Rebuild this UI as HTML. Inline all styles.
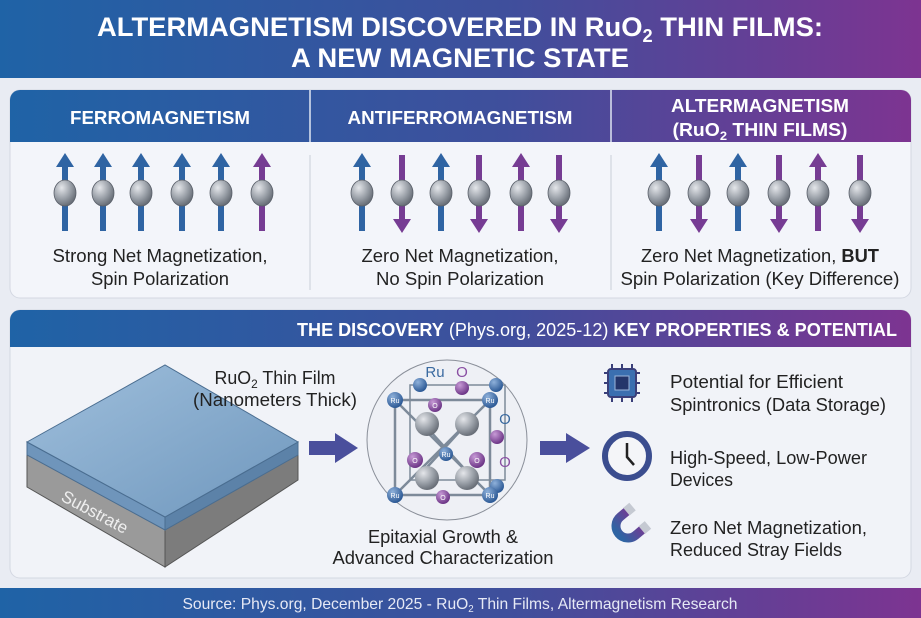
<!DOCTYPE html>
<html><head><meta charset="utf-8"><style>
html,body{margin:0;padding:0;background:#e9ecf3;}
svg{display:block;font-family:"Liberation Sans",sans-serif;}
</style></head><body>
<svg width="921" height="618" viewBox="0 0 921 618" xmlns="http://www.w3.org/2000/svg">
<defs>
<linearGradient id="g" x1="0" x2="1" y1="0" y2="0"><stop offset="0" stop-color="#1f63a6"/><stop offset="0.55" stop-color="#3f4f9c"/><stop offset="1" stop-color="#7d3491"/></linearGradient>
<radialGradient id="sp" cx="0.35" cy="0.3" r="0.7"><stop offset="0" stop-color="#e4e6ea"/><stop offset="0.6" stop-color="#9aa0a8"/><stop offset="1" stop-color="#6a7079"/></radialGradient>
<radialGradient id="bl" cx="0.35" cy="0.3" r="0.7"><stop offset="0" stop-color="#8fb1da"/><stop offset="1" stop-color="#2d5a96"/></radialGradient>
<radialGradient id="pu" cx="0.35" cy="0.3" r="0.7"><stop offset="0" stop-color="#c79ad6"/><stop offset="1" stop-color="#6d3687"/></radialGradient>
<linearGradient id="top" x1="0" y1="0" x2="1" y2="1"><stop offset="0" stop-color="#9fbfdc"/><stop offset="1" stop-color="#6f97bd"/></linearGradient>
<linearGradient id="mg" x1="0" x2="1"><stop offset="0" stop-color="#2f64a3"/><stop offset="1" stop-color="#7d3491"/></linearGradient>
<g id="up"><rect x="-3" y="-30" width="6" height="68" /><polygon points="-9,-26 0,-40 9,-26"/></g>
<g id="dn"><rect x="-3" y="-38" width="6" height="68" /><polygon points="-9,26 0,40 9,26"/></g>
<g id="ball"><ellipse cx="0" cy="0" rx="11" ry="13" fill="url(#sp)" stroke="#5a606a" stroke-width="0.8"/></g>
</defs>
<!-- title -->
<rect x="0" y="0" width="921" height="78" fill="url(#g)"/>
<text x="460" y="36" text-anchor="middle" font-size="27" font-weight="bold" fill="#fff" textLength="726" lengthAdjust="spacingAndGlyphs">ALTERMAGNETISM DISCOVERED IN RuO<tspan font-size="18" dy="6">2</tspan><tspan dy="-6"> THIN FILMS:</tspan></text>
<text x="460" y="67" text-anchor="middle" font-size="27" font-weight="bold" fill="#fff" textLength="338" lengthAdjust="spacingAndGlyphs">A NEW MAGNETIC STATE</text>

<!-- top panel -->
<rect x="10" y="90" width="901" height="208" rx="10" fill="#f3f5fa" stroke="#d4d8e2"/>
<path d="M10,142 V100 a10,10 0 0 1 10,-10 H901 a10,10 0 0 1 10,10 V142 Z" fill="url(#g)"/>
<line x1="310" y1="90" x2="310" y2="142" stroke="#dfe6f2" stroke-width="1.5"/>
<line x1="611" y1="90" x2="611" y2="142" stroke="#dfe6f2" stroke-width="1.5"/>
<line x1="310" y1="155" x2="310" y2="290" stroke="#c9ced8"/>
<line x1="611" y1="155" x2="611" y2="290" stroke="#c9ced8"/>
<g font-size="18" font-weight="bold" fill="#fff" text-anchor="middle">
<text x="160" y="124" textLength="180" lengthAdjust="spacingAndGlyphs">FERROMAGNETISM</text>
<text x="460" y="124" textLength="225" lengthAdjust="spacingAndGlyphs">ANTIFERROMAGNETISM</text>
<text x="760" y="112" textLength="178" lengthAdjust="spacingAndGlyphs">ALTERMAGNETISM</text>
<text x="760" y="136" textLength="175" lengthAdjust="spacingAndGlyphs">(RuO<tspan font-size="12" dy="4">2</tspan><tspan dy="-4"> THIN FILMS)</tspan></text>
</g>
<g fill="#2f64a3">
<use href="#up" x="65" y="193"/><use href="#up" x="103" y="193"/><use href="#up" x="141" y="193"/><use href="#up" x="182" y="193"/><use href="#up" x="221" y="193"/>
<use href="#up" x="362" y="193"/><use href="#up" x="441" y="193"/>
<use href="#up" x="659" y="193"/><use href="#up" x="738" y="193"/>
</g>
<g fill="#763c93">
<use href="#up" x="262" y="193"/>
<use href="#dn" x="402" y="193"/><use href="#dn" x="479" y="193"/><use href="#up" x="521" y="193"/><use href="#dn" x="559" y="193"/>
<use href="#dn" x="699" y="193"/><use href="#dn" x="779" y="193"/><use href="#up" x="818" y="193"/><use href="#dn" x="860" y="193"/>
</g>
<g>
<use href="#ball" x="65" y="193"/><use href="#ball" x="103" y="193"/><use href="#ball" x="141" y="193"/><use href="#ball" x="182" y="193"/><use href="#ball" x="221" y="193"/><use href="#ball" x="262" y="193"/>
<use href="#ball" x="362" y="193"/><use href="#ball" x="402" y="193"/><use href="#ball" x="441" y="193"/><use href="#ball" x="479" y="193"/><use href="#ball" x="521" y="193"/><use href="#ball" x="559" y="193"/>
<use href="#ball" x="659" y="193"/><use href="#ball" x="699" y="193"/><use href="#ball" x="738" y="193"/><use href="#ball" x="779" y="193"/><use href="#ball" x="818" y="193"/><use href="#ball" x="860" y="193"/>
</g>
<g font-size="18" fill="#222" text-anchor="middle" lengthAdjust="spacingAndGlyphs">
<text x="160" y="262" textLength="215" lengthAdjust="spacingAndGlyphs">Strong Net Magnetization,</text>
<text x="160" y="285" textLength="138" lengthAdjust="spacingAndGlyphs">Spin Polarization</text>
<text x="460" y="262" textLength="197" lengthAdjust="spacingAndGlyphs">Zero Net Magnetization,</text>
<text x="460" y="285" textLength="168" lengthAdjust="spacingAndGlyphs">No Spin Polarization</text>
<text x="760" y="262" textLength="238" lengthAdjust="spacingAndGlyphs">Zero Net Magnetization, <tspan font-weight="bold">BUT</tspan></text>
<text x="760" y="285" textLength="279" lengthAdjust="spacingAndGlyphs">Spin Polarization (Key Difference)</text>
</g>

<!-- bottom panel -->
<rect x="10" y="310" width="901" height="268" rx="10" fill="#f1f3f8" stroke="#d4d8e2"/>
<path d="M10,347 V320 a10,10 0 0 1 10,-10 H901 a10,10 0 0 1 10,10 V347 Z" fill="url(#g)"/>
<text x="897" y="336" text-anchor="end" font-size="18" fill="#fff" textLength="600" lengthAdjust="spacingAndGlyphs"><tspan font-weight="bold">THE DISCOVERY</tspan> (Phys.org, 2025-12)  <tspan font-weight="bold">KEY PROPERTIES &amp; POTENTIAL</tspan></text>

<!-- block -->
<polygon points="27,442 165,517 165,567 27,487" fill="#9a9a9a" stroke="#555"/>
<polygon points="165,517 298,442 298,480 165,567" fill="#7c7c7c" stroke="#555"/>
<polygon points="27,442 165,517 165,530 27,455" fill="#6f95bb" stroke="#4a6d90"/>
<polygon points="165,517 298,442 298,455 165,530" fill="#5c82a8" stroke="#4a6d90"/>
<polygon points="27,442 165,365 298,442 165,517" fill="url(#top)" stroke="#4a6d90"/>
<text x="60" y="500" font-size="17" fill="#eee" transform="rotate(28 60 500)">Substrate</text>
<g font-size="18" fill="#222" text-anchor="middle">
<text x="275" y="384" textLength="121" lengthAdjust="spacingAndGlyphs">RuO<tspan font-size="12" dy="4">2</tspan><tspan dy="-4"> Thin Film</tspan></text>
<text x="275" y="406" textLength="164" lengthAdjust="spacingAndGlyphs">(Nanometers Thick)</text>
<text x="443" y="543" textLength="150" lengthAdjust="spacingAndGlyphs">Epitaxial Growth &amp;</text>
<text x="443" y="564" textLength="221" lengthAdjust="spacingAndGlyphs">Advanced Characterization</text>
</g>
<!-- arrows -->
<g fill="#4a4f9c"><polygon points="309,441 335,441 335,433 358,448 335,463 335,455 309,455"/>
<polygon points="540,441 566,441 566,433 590,448 566,463 566,455 540,455"/></g>
<!-- crystal -->
<ellipse cx="447" cy="440" rx="80" ry="80" fill="#eef0f5" stroke="#8a8f99"/>
<g stroke="#7d8a99" stroke-width="2.5" fill="none">
<rect x="395" y="400" width="95" height="95"/>
<rect x="410" y="385" width="95" height="95" stroke-width="1.5"/>
<line x1="395" y1="400" x2="490" y2="495"/><line x1="490" y1="400" x2="395" y2="495"/>
<line x1="420" y1="420" x2="470" y2="475"/><line x1="470" y1="420" x2="420" y2="475"/>
</g>
<g font-size="7" fill="#fff" text-anchor="middle">
<circle cx="420" cy="385" r="7" fill="url(#bl)"/><circle cx="462" cy="388" r="7" fill="url(#pu)"/><circle cx="496" cy="385" r="7" fill="url(#bl)"/>
<circle cx="395" cy="400" r="8" fill="url(#bl)"/><text x="395" y="403">Ru</text>
<circle cx="490" cy="400" r="8" fill="url(#bl)"/><text x="490" y="403">Ru</text>
<circle cx="435" cy="405" r="7" fill="url(#pu)"/><text x="435" y="408">O</text>
<circle cx="415" cy="460" r="8" fill="url(#pu)"/><text x="415" y="463">O</text>
<circle cx="477" cy="460" r="8" fill="url(#pu)"/><text x="477" y="463">O</text>
<circle cx="446" cy="454" r="7" fill="url(#bl)"/><text x="446" y="457">Ru</text>
<circle cx="497" cy="437" r="7" fill="url(#pu)"/><circle cx="497" cy="486" r="7" fill="url(#bl)"/>
<circle cx="395" cy="495" r="8" fill="url(#bl)"/><text x="395" y="498">Ru</text>
<circle cx="490" cy="495" r="8" fill="url(#bl)"/><text x="490" y="498">Ru</text>
<circle cx="443" cy="497" r="7" fill="url(#pu)"/><text x="443" y="500">O</text>
<circle cx="427" cy="424" r="12" fill="url(#sp)"/><circle cx="467" cy="424" r="12" fill="url(#sp)"/>
<circle cx="427" cy="478" r="12" fill="url(#sp)"/><circle cx="467" cy="478" r="12" fill="url(#sp)"/>
</g>
<g font-size="15" text-anchor="middle"><text x="435" y="377" fill="#3a6aa0">Ru</text>
<text x="462" y="377" fill="#8a4fa3">O</text><text x="505" y="424" fill="#3a6aa0">O</text><text x="505" y="467" fill="#8a4fa3">O</text></g>

<!-- icons -->
<g stroke="#3a3f7a" stroke-width="2">
<line x1="604" y1="373" x2="640" y2="373"/><line x1="604" y1="383" x2="640" y2="383"/><line x1="604" y1="393" x2="640" y2="393"/>
<line x1="612" y1="364" x2="612" y2="402"/><line x1="622" y1="364" x2="622" y2="402"/><line x1="632" y1="364" x2="632" y2="402"/>
<rect x="608" y="369" width="28" height="28" rx="3" fill="#3b6fb0"/>
<rect x="615" y="376" width="14" height="14" fill="#24356a" stroke="#9bb5da" stroke-width="1"/>
</g>
<circle cx="627" cy="456" r="22" fill="#f4f5f8" stroke="#3b4d8f" stroke-width="6"/>
<polyline points="627,443 627,457 634,465" fill="none" stroke="#222" stroke-width="2.5"/>
<g transform="rotate(-40 628 526)">
<path d="M642,514 H628 A12,12 0 0 0 628,538 H642" fill="none" stroke="url(#mg)" stroke-width="9"/>
<rect x="636" y="509" width="8" height="10" fill="#c5c9d2"/><rect x="636" y="533" width="8" height="10" fill="#c5c9d2"/>
</g>
<g font-size="18" fill="#222">
<text x="670" y="388" textLength="173" lengthAdjust="spacingAndGlyphs">Potential for Efficient</text>
<text x="670" y="411" textLength="216" lengthAdjust="spacingAndGlyphs">Spintronics (Data Storage)</text>
<text x="670" y="464" textLength="197" lengthAdjust="spacingAndGlyphs">High-Speed, Low-Power</text>
<text x="670" y="486" textLength="63" lengthAdjust="spacingAndGlyphs">Devices</text>
<text x="670" y="534" textLength="197" lengthAdjust="spacingAndGlyphs">Zero Net Magnetization,</text>
<text x="670" y="556" textLength="172" lengthAdjust="spacingAndGlyphs">Reduced Stray Fields</text>
</g>
<!-- footer -->
<rect x="0" y="588" width="921" height="30" fill="url(#g)"/>
<text x="460" y="609" text-anchor="middle" font-size="16" fill="#e6e9f5" textLength="555" lengthAdjust="spacingAndGlyphs">Source: Phys.org, December 2025 - RuO<tspan font-size="10" dy="3">2</tspan><tspan dy="-3"> Thin Films, Altermagnetism Research</tspan></text>
</svg>
</body></html>
